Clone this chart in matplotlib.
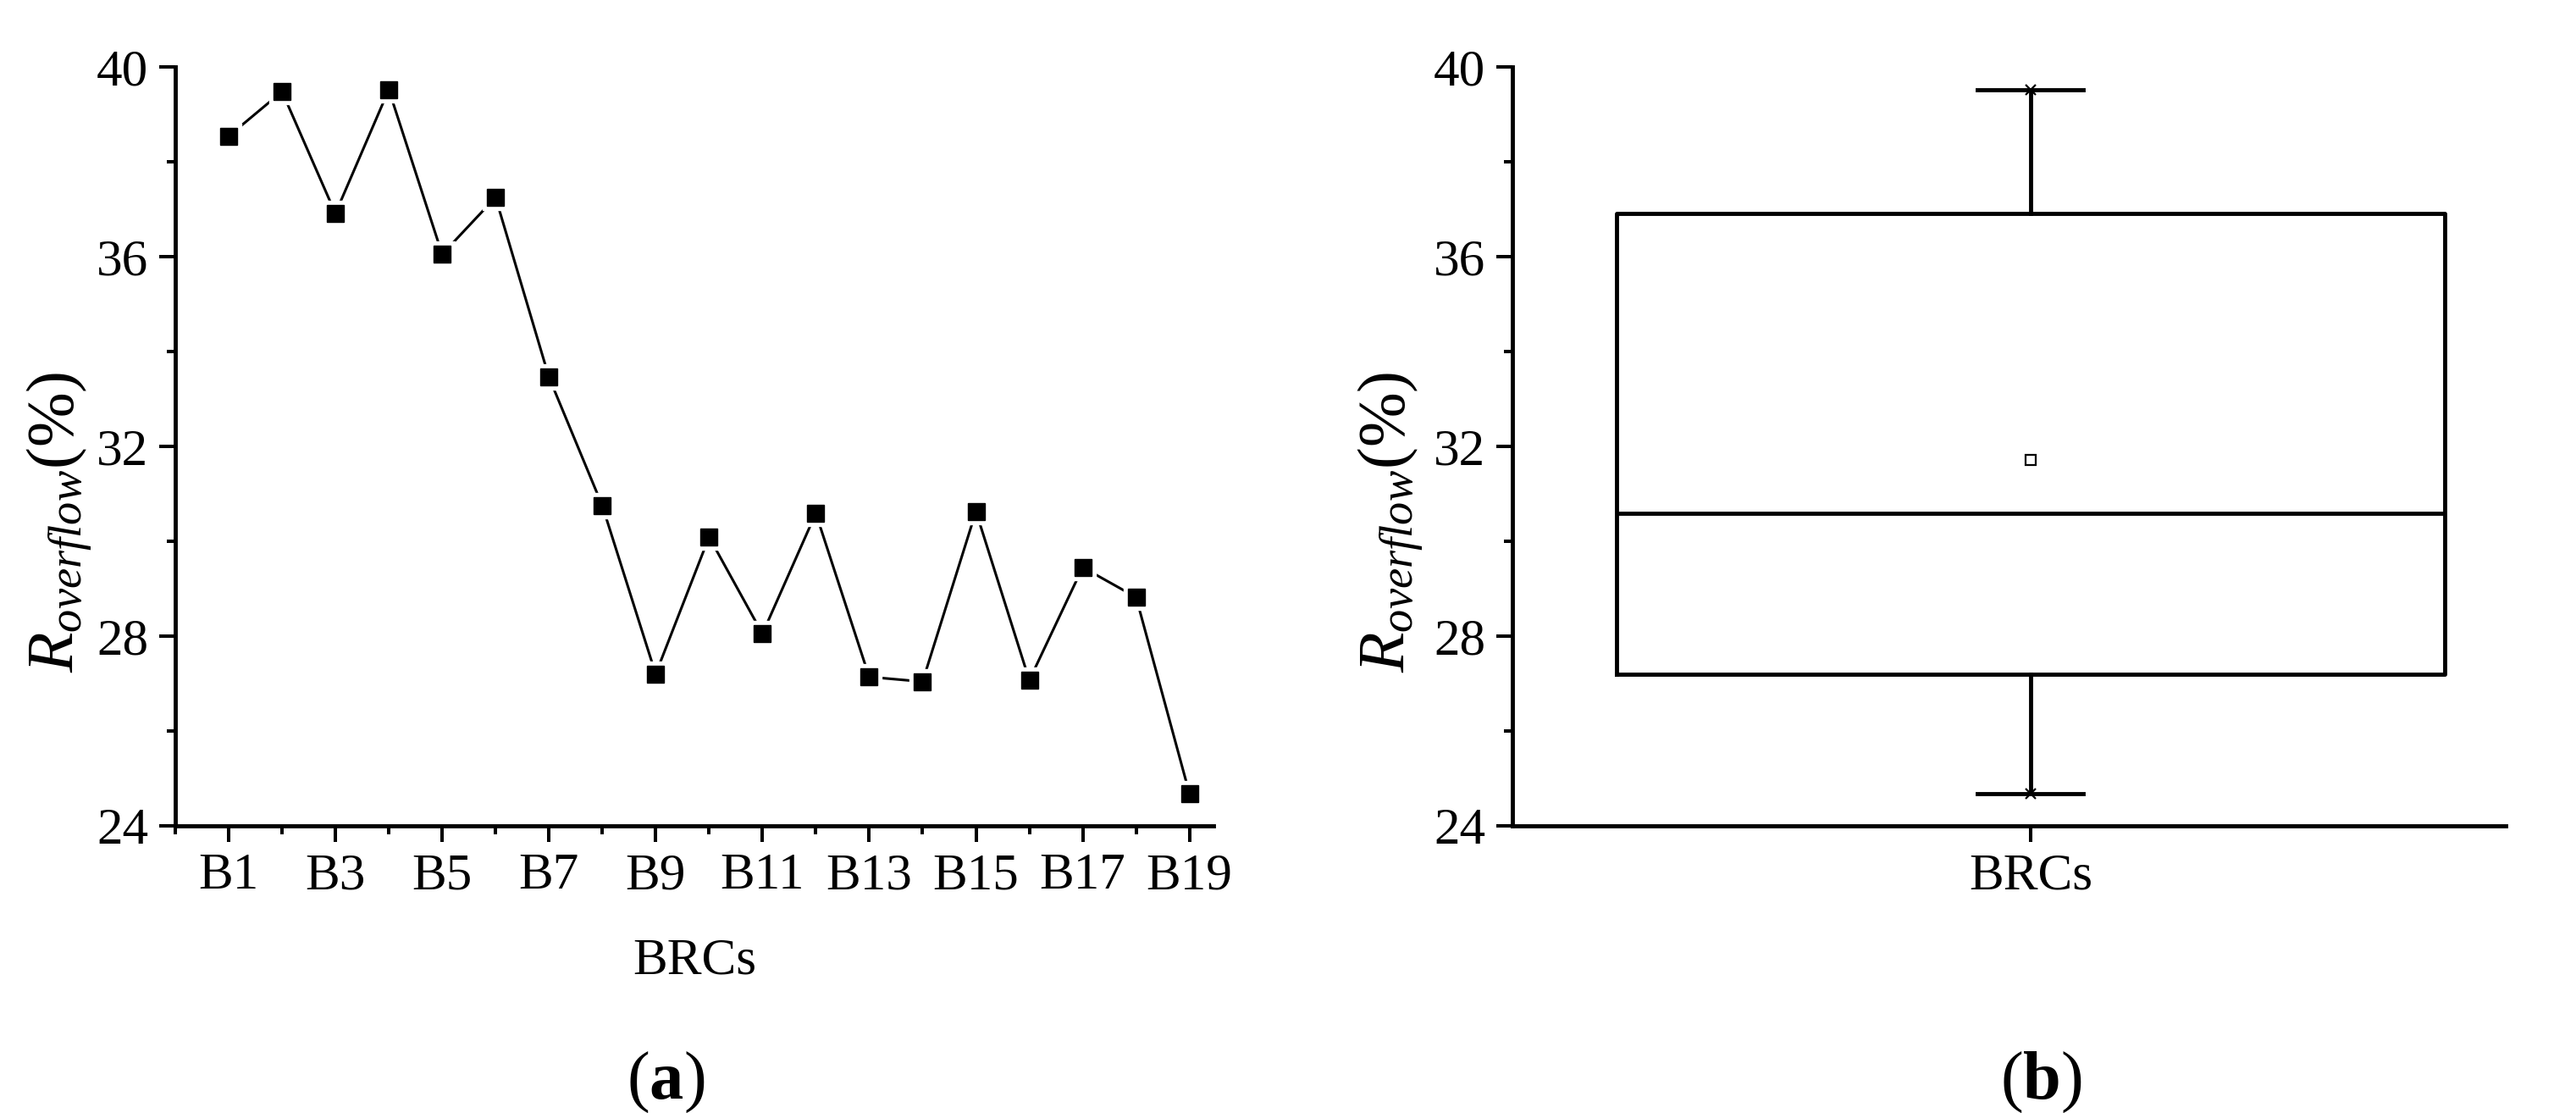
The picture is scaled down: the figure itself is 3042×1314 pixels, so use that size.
import numpy as np
import matplotlib
matplotlib.use("Agg")
import matplotlib.pyplot as plt
from matplotlib.ticker import FixedLocator

# ---- data ----
categories = [f"B{i}" for i in range(1, 20)]
r_overflow = [38.54, 39.48, 36.91, 39.52, 36.05, 37.25, 33.46, 30.75, 27.20, 30.09,
              28.05, 30.59, 27.14, 27.04, 30.63, 27.07, 29.45, 28.82, 24.68]
y_ticks = [24, 28, 32, 36, 40]
y_minor = [26, 30, 34, 38]
x_label = "BRCs"
y_label = r"$R_{overflow}$(%)"

plt.rcParams.update({
    "font.family": ["Liberation Serif", "DejaVu Serif"],
    "mathtext.fontset": "custom",
    "mathtext.rm": "Liberation Serif",
    "mathtext.it": "Liberation Serif:italic",
    "mathtext.bf": "Liberation Serif:bold",
})

W, H = 3042, 1314
fig = plt.figure(figsize=(W / 100, H / 100), dpi=100)

FS = 44
YLFS = 56
SPW = 3.5

def px_axes(x0, x1, y0, y1):
    return fig.add_axes([x0 / W, 1 - y1 / H, (x1 - x0) / W, (y1 - y0) / H])

def style(ax):
    for s in ["top", "right"]:
        ax.spines[s].set_visible(False)
    for s in ["left", "bottom"]:
        ax.spines[s].set_linewidth(SPW)
    ax.tick_params(which="major", direction="out", length=14, width=2.9,
                   labelsize=FS, pad=9)
    ax.tick_params(which="minor", direction="out", length=7, width=2.9)
    ax.set_ylim(24, 40)
    ax.yaxis.set_major_locator(FixedLocator(y_ticks))
    ax.yaxis.set_minor_locator(FixedLocator(y_minor))

# ---- (a) line plot ----
ax1 = px_axes(207, 1433, 79, 975)
style(ax1)
x = np.arange(1, len(categories) + 1)
ax1.plot(x, r_overflow, color="black", lw=2.2, zorder=3, clip_on=False)
ax1.plot(x, r_overflow, ls="none", marker="s", ms=22, mfc="white", mec="white",
         zorder=4, clip_on=False)
ax1.plot(x, r_overflow, ls="none", marker="s", ms=15, mfc="black", mec="black",
         zorder=5, clip_on=False)
ax1.set_xlim(0, 19.45)
ax1.xaxis.set_major_locator(FixedLocator(x[::2]))
ax1.xaxis.set_minor_locator(FixedLocator(np.arange(0, 19, 2)))
ax1.set_xticklabels(categories[::2])
ax1.set_xlabel(x_label, fontsize=FS, labelpad=32)
ax1.set_ylabel(y_label, fontsize=YLFS)
ax1.yaxis.set_label_coords(-0.078, 0.40)

# ---- (b) box plot ----
ax2 = px_axes(1786, 2959, 79, 975)
style(ax2)
data = np.array(r_overflow)
stats = [dict(
    med=np.median(data),
    q1=np.percentile(data, 25, method="weibull"),
    q3=np.percentile(data, 75, method="weibull"),
    whislo=data.min(),
    whishi=data.max(),
    mean=data.mean(),
    label=x_label,
)]
ax2.bxp(stats, positions=[1], widths=1.0, capwidths=0.128, showmeans=True,
        showfliers=False,
        boxprops=dict(color="black", lw=3.5),
        medianprops=dict(color="black", lw=3.5),
        whiskerprops=dict(color="black", lw=3.5),
        capprops=dict(color="black", lw=3.5),
        meanprops=dict(marker="s", markersize=8.5, markerfacecolor="white",
                       markeredgecolor="black", markeredgewidth=1.6))
ax2.plot([1, 1], [data.min(), data.max()], ls="none", marker="x", ms=9,
         mew=1.6, color="black", zorder=5, clip_on=False)
ax2.set_xlim(0.374, 1.574)
ax2.set_xticks([1])
ax2.set_xticklabels([x_label])
ax2.xaxis.set_minor_locator(FixedLocator([]))
ax2.set_ylabel(y_label, fontsize=YLFS)
ax2.yaxis.set_label_coords(-0.088, 0.40)

# ---- panel labels ----
fig.text(786 / W, 1 - 1278 / H, r"($\mathbf{a}$)", fontsize=58, ha="center", va="center")
fig.text(2410 / W, 1 - 1278 / H, r"($\mathbf{b}$)", fontsize=58, ha="center", va="center")

fig.savefig("out.png", dpi=100, facecolor="white")
